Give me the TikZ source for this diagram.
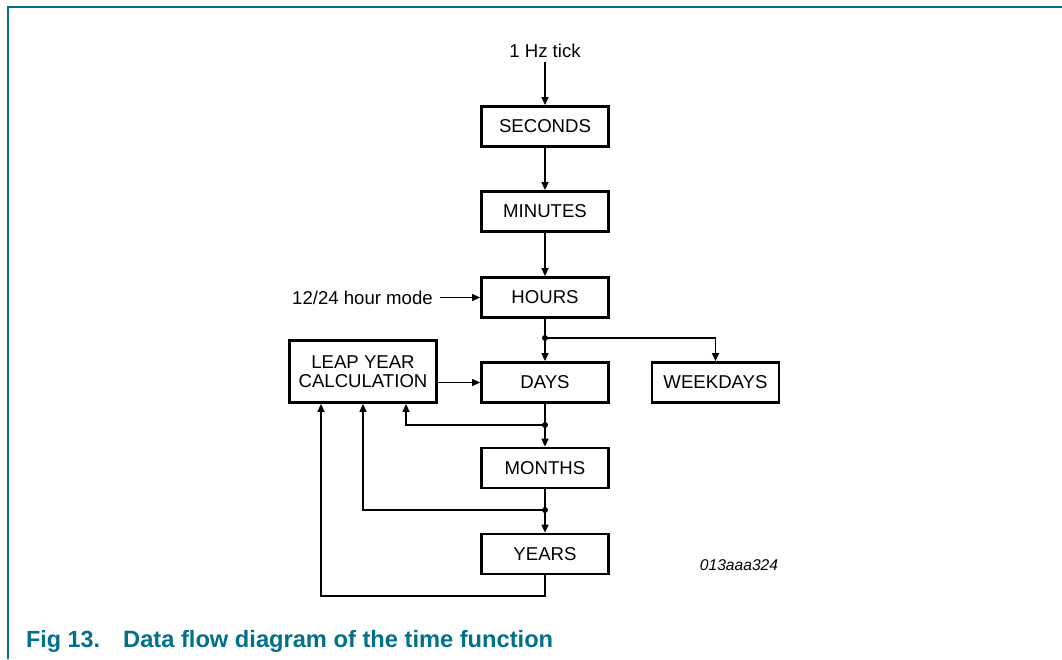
\documentclass[tikz,border=0pt]{standalone}
\usepackage{fontspec}
\setmainfont{Liberation Sans}
\usetikzlibrary{arrows.meta,calc}
\definecolor{nxpteal}{RGB}{0,112,140}
\newcommand{\boxfont}{\fontsize{18.6}{20}\selectfont}
\begin{document}
\begin{tikzpicture}[x=1pt,y=-1pt,
  boxnode/.style={draw,line width=2.8pt,minimum width=127pt,minimum height=40pt,inner sep=0pt,font=\boxfont},
  conn/.style={line width=1.3pt},
  arr/.style={conn,-{Triangle[length=8pt,width=7pt]}},
  dot/.style={circle,fill,inner sep=0pt,minimum size=6pt},
  lbl/.style={inner sep=0pt,font=\boxfont}]
\useasboundingbox (0,0) rectangle (1062,659);
% frame
\draw[nxpteal,line width=1.6pt] (8,659) -- (8,7) -- (1062,7);
% boxes
\node[boxnode] (sec) at (545,126.5) {SECONDS};
\node[boxnode] (min) at (545,211.5) {MINUTES};
\node[boxnode] (hours) at (545,297.5) {HOURS};
\node[boxnode] (days) at (545,382.5) {DAYS};
\node[boxnode] (months) at (545,468) {MONTHS};
\node[boxnode] (years) at (545,554) {YEARS};
\node[boxnode] (week) at (715.5,382.5) {WEEKDAYS};
\node[boxnode,minimum width=147pt,minimum height=62pt,align=center] (leap) at (363,371.5) {LEAP YEAR\\[-1pt]CALCULATION};
% labels
\node[lbl] (tick) at (545,51) {1 Hz tick};
\node[lbl,anchor=east] (mode) at (433,297.5) {12/24 hour mode};
\node[inner sep=0pt,font=\fontsize{15.6}{17}\selectfont\itshape] (code) at (739,565) {013aaa324};
% junctions
\node[dot] (j1) at (545,338) {};
\node[dot] (j2) at (545,425) {};
\node[dot] (j3) at (545,510) {};
\coordinate (yb) at (545,596);
% connectors
\draw[arr] ([yshift=-4pt]tick.south) -- (sec.north);
\draw[arr] (sec.south) -- (min.north);
\draw[arr] (min.south) -- (hours.north);
\draw[arr,shorten <=7pt] (mode.east) -- (hours.west);
\draw[conn] (hours.south) -- (j1.center);
\draw[arr] (j1.center) -- (days.north);
\draw[arr] (j1.center) -| (week.north);
\draw[arr] (leap.east |- days.west) -- (days.west);
\draw[conn] (days.south) -- (j2.center);
\draw[arr] (j2.center) -- (months.north);
\draw[arr] (j2.center) -| ([xshift=43pt]leap.south);
\draw[conn] (months.south) -- (j3.center);
\draw[arr] (j3.center) -- (years.north);
\draw[arr] (j3.center) -| (leap.south);
\draw[arr] (years.south) -- (yb) -| ([xshift=-42pt]leap.south);
% caption
\node[anchor=base west,inner sep=0pt,text=nxpteal,font=\fontsize{20}{22}\selectfont\bfseries] (figno) at (26,647) {\resizebox{74pt}{!}{Fig 13.}};
\node[anchor=base west,inner sep=0pt,text=nxpteal,font=\fontsize{20}{22}\selectfont\bfseries] (figtitle) at (123,647) {\resizebox{430pt}{!}{Data flow diagram of the time function}};
\end{tikzpicture}
\end{document}
